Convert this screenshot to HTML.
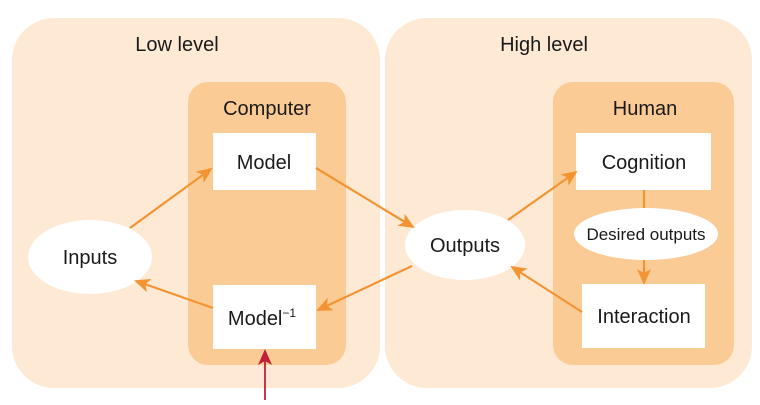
<!DOCTYPE html>
<html><head><style>
body{margin:0;background:#fff}
svg text{font-family:"Liberation Sans","DejaVu Sans",sans-serif;fill:#1a1a1a}
</style></head><body>
<svg width="760" height="400" viewBox="0 0 760 400" xmlns="http://www.w3.org/2000/svg">
<defs>
<marker id="o" markerWidth="16" markerHeight="14" refX="14" refY="7" orient="auto" markerUnits="userSpaceOnUse"><path d="M0,0 L16,7 L0,14 L4,7 z" fill="#f39433"/></marker>
<marker id="r" markerWidth="16" markerHeight="14" refX="14" refY="7" orient="auto" markerUnits="userSpaceOnUse"><path d="M0,0 L16,7 L0,14 L4,7 z" fill="#c0203a"/></marker>
</defs>
<rect x="12" y="18" width="368" height="370" rx="42" fill="#fde9d4"/>
<rect x="385" y="18" width="367" height="370" rx="42" fill="#fde9d4"/>
<rect x="188" y="82" width="158" height="283" rx="20" fill="#fbcb96"/>
<rect x="553" y="82" width="181" height="283" rx="20" fill="#fbcb96"/>
<text x="177" y="51" font-size="20" text-anchor="middle">Low level</text>
<text x="544" y="51" font-size="20" text-anchor="middle">High level</text>
<text x="267" y="115" font-size="20" text-anchor="middle">Computer</text>
<text x="645" y="115" font-size="20" text-anchor="middle">Human</text>
<rect x="213" y="133" width="103" height="57" fill="#fff"/>
<rect x="213" y="285" width="103" height="64" fill="#fff"/>
<rect x="576" y="133" width="135" height="57" fill="#fff"/>
<rect x="582" y="284" width="123" height="64" fill="#fff"/>
<ellipse cx="90" cy="257" rx="62" ry="37" fill="#fff"/>
<ellipse cx="465" cy="245" rx="60" ry="35" fill="#fff"/>
<g stroke="#f39433" stroke-width="2.2" fill="none">
<line x1="130" y1="228" x2="211" y2="169" marker-end="url(#o)"/>
<line x1="316" y1="168" x2="413" y2="227" marker-end="url(#o)"/>
<line x1="412" y1="266" x2="318" y2="310" marker-end="url(#o)"/>
<line x1="213" y1="308" x2="136" y2="281" marker-end="url(#o)"/>
<line x1="508" y1="220" x2="576" y2="172" marker-end="url(#o)"/>
<line x1="582" y1="312" x2="512" y2="267" marker-end="url(#o)"/>
<line x1="644" y1="190" x2="644" y2="210"/>
<line x1="644" y1="259" x2="644" y2="283" marker-end="url(#o)"/>
</g>
<ellipse cx="646" cy="234" rx="72" ry="26" fill="#fff"/>
<line x1="265" y1="400" x2="265" y2="351" stroke="#c0203a" stroke-width="1.8" marker-end="url(#r)"/>
<text x="90" y="264" font-size="20" text-anchor="middle">Inputs</text>
<text x="465" y="252" font-size="20" text-anchor="middle">Outputs</text>
<text x="264" y="169" font-size="20" text-anchor="middle">Model</text>
<text x="262" y="325" font-size="20" text-anchor="middle">Model<tspan font-size="12" dy="-8">−1</tspan></text>
<text x="644" y="169" font-size="20" text-anchor="middle">Cognition</text>
<text x="644" y="323" font-size="20" text-anchor="middle">Interaction</text>
<text x="646" y="240" font-size="17" text-anchor="middle">Desired outputs</text>
</svg>
</body></html>
